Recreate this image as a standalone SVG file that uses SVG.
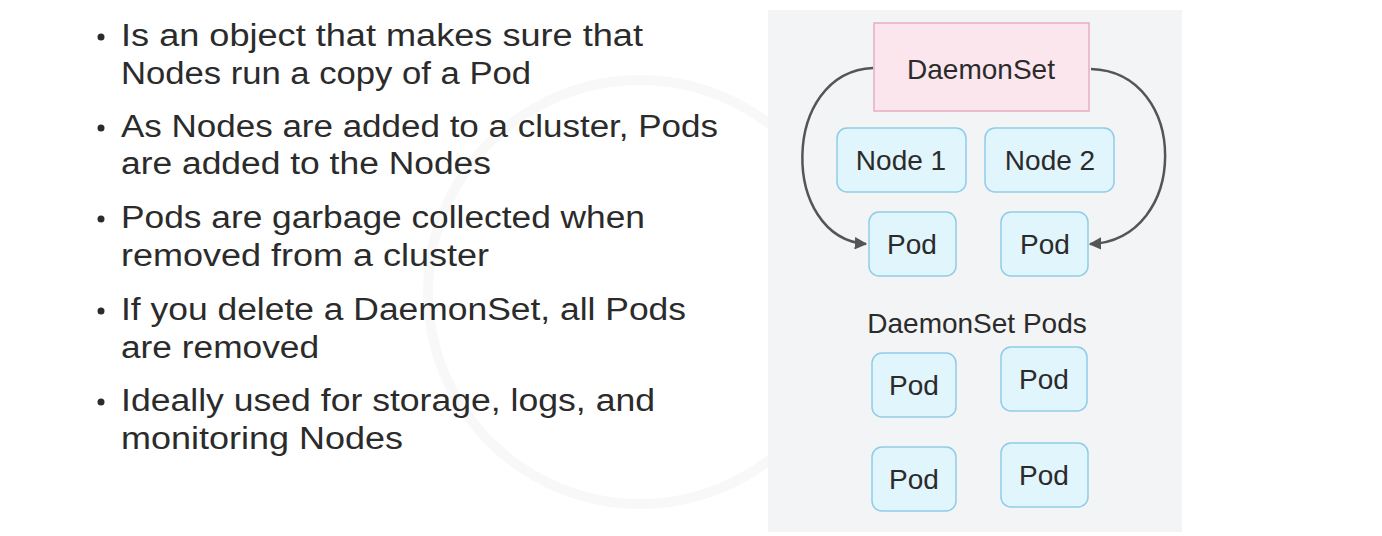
<svg xmlns="http://www.w3.org/2000/svg" width="1382" height="536" viewBox="0 0 1382 536">
<defs>
<style>
.b{font-family:"Liberation Sans",Arial,sans-serif;font-size:31px;fill:#2b2b2b}
.t{font-family:"Liberation Sans",Arial,sans-serif;font-size:28px;fill:#2b2b2b;text-anchor:middle}
.dot{fill:#2b2b2b}
.node{fill:#e1f5fc;stroke:#90cbe8;stroke-width:1.5}
.ds{fill:#fce6ee;stroke:#e8acc4;stroke-width:1.5}
.conn{fill:none;stroke:#555;stroke-width:2.5}
</style>
<marker id="ah" viewBox="0 0 10 10" refX="9" refY="5" markerWidth="5" markerHeight="5" orient="auto" markerUnits="strokeWidth">
<path d="M0,0 L10,5 L0,10 z" fill="#555"/>
</marker>
</defs>
<rect width="1382" height="536" fill="#ffffff"/>
<circle cx="640" cy="292" r="212" fill="none" stroke="#f8f8f8" stroke-width="10"/>
<g id="bullets">
<circle class="dot" cx="101" cy="37" r="3.5"/>
<text class="b" x="121" y="46" textLength="522" lengthAdjust="spacingAndGlyphs">Is an object that makes sure that</text>
<text class="b" x="121" y="84" textLength="410" lengthAdjust="spacingAndGlyphs">Nodes run a copy of a Pod</text>
<circle class="dot" cx="101" cy="128" r="3.5"/>
<text class="b" x="121" y="137" textLength="597" lengthAdjust="spacingAndGlyphs">As Nodes are added to a cluster, Pods</text>
<text class="b" x="121" y="174" textLength="370" lengthAdjust="spacingAndGlyphs">are added to the Nodes</text>
<circle class="dot" cx="101" cy="219" r="3.5"/>
<text class="b" x="121" y="228" textLength="524" lengthAdjust="spacingAndGlyphs">Pods are garbage collected when</text>
<text class="b" x="121" y="266" textLength="368" lengthAdjust="spacingAndGlyphs">removed from a cluster</text>
<circle class="dot" cx="101" cy="311" r="3.5"/>
<text class="b" x="121" y="320" textLength="565" lengthAdjust="spacingAndGlyphs">If you delete a DaemonSet, all Pods</text>
<text class="b" x="121" y="358" textLength="198" lengthAdjust="spacingAndGlyphs">are removed</text>
<circle class="dot" cx="101" cy="402" r="3.5"/>
<text class="b" x="121" y="411" textLength="534" lengthAdjust="spacingAndGlyphs">Ideally used for storage, logs, and</text>
<text class="b" x="121" y="449" textLength="282" lengthAdjust="spacingAndGlyphs">monitoring Nodes</text>
</g>
<rect id="panel" x="768" y="10" width="414" height="522" fill="#f3f4f6"/>
<g id="daemonset">
<rect class="ds" x="874" y="23" width="215" height="88"/>
<text class="t" x="981" y="79">DaemonSet</text>
</g>
<g id="node1">
<rect class="node" x="837" y="128" width="129" height="64" rx="10"/>
<text class="t" x="901" y="170">Node 1</text>
</g>
<g id="node2">
<rect class="node" x="985" y="128" width="129" height="64" rx="10"/>
<text class="t" x="1050" y="170">Node 2</text>
</g>
<g id="pod1">
<rect class="node" x="869" y="212" width="87" height="64" rx="10"/>
<text class="t" x="912" y="254">Pod</text>
</g>
<g id="pod2">
<rect class="node" x="1001" y="212" width="87" height="64" rx="10"/>
<text class="t" x="1045" y="254">Pod</text>
</g>
<g id="label-pods">
<text class="t" x="977" y="333" font-size="26">DaemonSet Pods</text>
</g>
<g id="pod3">
<rect class="node" x="872" y="353" width="84" height="64" rx="10"/>
<text class="t" x="914" y="395">Pod</text>
</g>
<g id="pod4">
<rect class="node" x="1001" y="347" width="86" height="64" rx="10"/>
<text class="t" x="1044" y="389">Pod</text>
</g>
<g id="pod5">
<rect class="node" x="872" y="447" width="84" height="64" rx="10"/>
<text class="t" x="914" y="489">Pod</text>
</g>
<g id="pod6">
<rect class="node" x="1001" y="443" width="87" height="64" rx="10"/>
<text class="t" x="1044" y="485">Pod</text>
</g>
<g id="connectors">
<path class="conn" d="M873,68 C780,72 780,238 866,244" marker-end="url(#ah)"/>
<path class="conn" d="M1091,69 C1190,72 1190,240 1090,244" marker-end="url(#ah)"/>
</g>
</svg>
